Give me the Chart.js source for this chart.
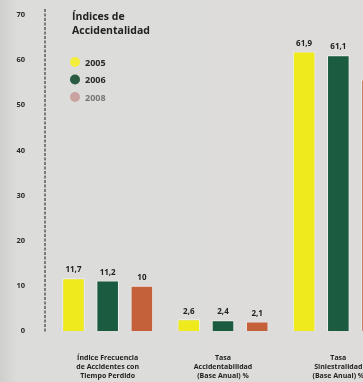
<!DOCTYPE html>
<html>
<head>
<meta charset="utf-8">
<script src="https://cdn.jsdelivr.net/npm/chart.js@4.4.1/dist/chart.umd.min.js"></script>
<style>
  html, body { margin: 0; padding: 0; width: 363px; height: 382px; overflow: hidden; }
  body { background: linear-gradient(90deg, #cfcfcd 0px, #dcdcda 18px, #dddcda 100%); }
  #wrap { width: 396px; height: 382px; }
</style>
</head>
<body>
<div id="wrap"><canvas id="c" width="396" height="382"></canvas></div>
<script>
// Índices de accidentalidad por año
const categories = [
  ["Índice Frecuencia", "de Accidentes con", "Tiempo Perdido"],
  ["Tasa", "Accidentabilidad", "(Base Anual) %"],
  ["Tasa", "Siniestralidad", "(Base Anual) %"]
];
const years = ["2005", "2006", "2008"];
const values2005 = [11.7, 2.6, 61.9];
const values2006 = [11.2, 2.4, 61.1];
const values2008 = [10, 2.1, 55.7];
const yTicks = [0, 10, 20, 30, 40, 50, 60, 70];

const barColors = ["#eeea1e", "#1b5b3f", "#c4613a"];
const legendDot = ["#f2ee3a", "#2a5b40", "#c9a3a0"];
const legendText = ["#2a2a2a", "#2a2a2a", "#777"];
const FONT = "'Open Sans', 'Liberation Sans', sans-serif";

const fmt = v => String(v).replace('.', ',');

// dashed vertical axis, set a little left of the first category
const dashedAxis = {
  id: 'dashedAxis',
  beforeDatasetsDraw(chart) {
    const y = chart.scales.y;
    const x = chart.chartArea.left - 5;
    const ctx = chart.ctx;
    ctx.save();
    ctx.strokeStyle = "#3a3a3a";
    ctx.lineWidth = 1.2;
    ctx.setLineDash([3, 1.5]);
    ctx.beginPath();
    ctx.moveTo(x, y.getPixelForValue(70) - 6);
    ctx.lineTo(x, y.getPixelForValue(0) + 2);
    ctx.stroke();
    ctx.restore();
  }
};

// value labels above each bar
const valueLabels = {
  id: 'valueLabels',
  afterDatasetsDraw(chart) {
    const ctx = chart.ctx;
    ctx.save();
    ctx.font = "bold 8px " + FONT;
    ctx.fillStyle = "#222";
    ctx.textAlign = "center";
    ctx.textBaseline = "bottom";
    chart.data.datasets.forEach((ds, i) => {
      chart.getDatasetMeta(i).data.forEach((bar, j) => {
        ctx.fillText(fmt(ds.data[j]), bar.x, bar.y - 4);
      });
    });
    ctx.restore();
  }
};

// title and year key inside the plot area
const keyBox = {
  id: 'keyBox',
  afterDraw(chart) {
    const ctx = chart.ctx;
    ctx.save();
    ctx.fillStyle = "#222";
    ctx.font = "bold 10.5px " + FONT;
    ctx.textAlign = "left";
    ctx.textBaseline = "middle";
    ctx.fillText("Índices de", 72, 17);
    ctx.fillText("Accidentalidad", 72, 31);
    chart.data.datasets.forEach((ds, i) => {
      const y = 62 + i * 17.5;
      ctx.beginPath();
      ctx.arc(75, y, 5, 0, Math.PI * 2);
      ctx.fillStyle = legendDot[i];
      ctx.fill();
      ctx.fillStyle = legendText[i];
      ctx.font = "bold 9px " + FONT;
      ctx.fillText(ds.label, 85, y + 1);
    });
    ctx.restore();
  }
};

new Chart(document.getElementById('c'), {
  type: 'bar',
  data: {
    labels: categories,
    datasets: years.map((y, i) => ({
      label: y,
      data: [values2005, values2006, values2008][i],
      backgroundColor: barColors[i],
      borderColor: "rgba(255,255,255,0.55)",
      borderWidth: 1,
      categoryPercentage: 0.89,
      barPercentage: 0.66
    }))
  },
  options: {
    responsive: false,
    animation: false,
    layout: { padding: { top: 15, left: 4, right: 0, bottom: 0 } },
    plugins: { legend: { display: false }, tooltip: { enabled: false } },
    scales: {
      x: {
        grid: { display: false },
        border: { display: false },
        afterFit(scale) { scale.height = 51; scale.paddingTop = 0; scale.paddingBottom = 0; },
        ticks: {
          padding: 14,
          color: "#1e1e1e",
          maxRotation: 0,
          font: { family: FONT, size: 7, weight: 'bold', lineHeight: 1.3 }
        }
      },
      y: {
        min: 0,
        max: 70,
        afterFit(scale) { scale.width = 46; scale.paddingTop = 0; scale.paddingBottom = 0; },
        afterBuildTicks(scale) { scale.ticks = yTicks.map(v => ({ value: v })); },
        grid: { display: false, drawTicks: false },
        border: { display: false },
        ticks: {
          padding: 25,
          color: "#2a2a2a",
          font: { family: FONT, size: 7.5, weight: 'bold' }
        }
      }
    }
  },
  plugins: [dashedAxis, valueLabels, keyBox]
});
</script>
</body>
</html>
